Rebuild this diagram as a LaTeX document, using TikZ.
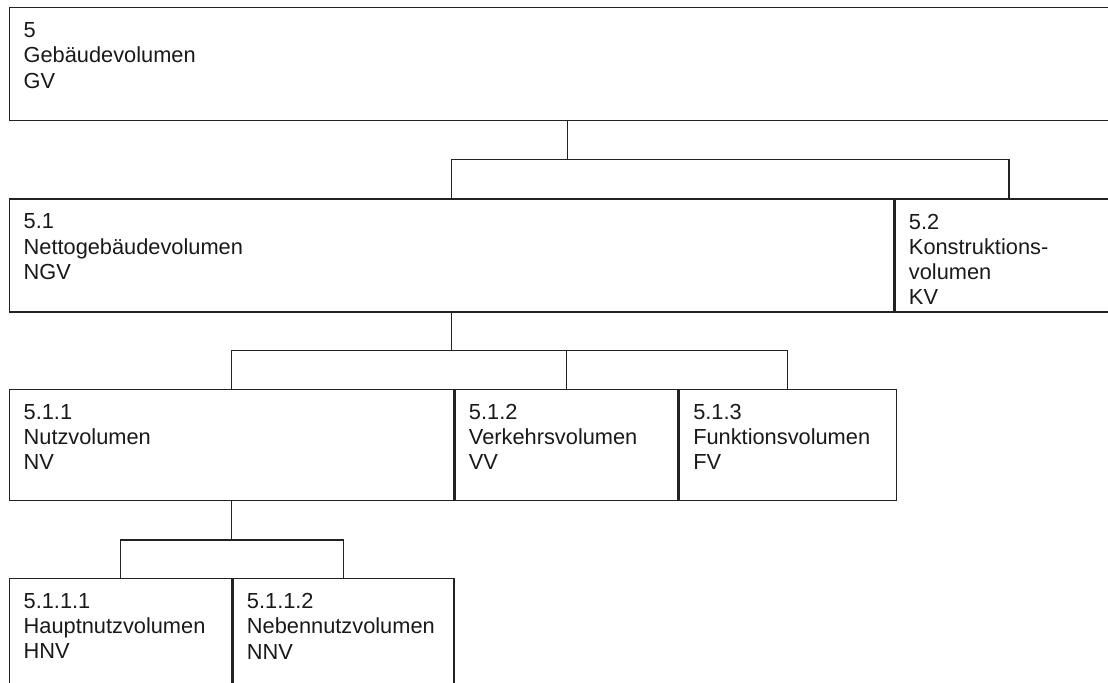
\documentclass[tikz,border=0pt]{standalone}
\usepackage{fontspec}
\setmainfont{Liberation Sans}
\usetikzlibrary{positioning}
\definecolor{cline}{HTML}{222222}
\tikzset{
  every picture/.style={line width=0.65pt},
  box/.style={draw=cline, rectangle, inner sep=0pt, anchor=north west, minimum width=#1, minimum height=56.5pt},
  boxtext/.style={anchor=north west, align=left, inner xsep=7pt, inner ysep=7.5pt, text=black!90, font=\fontsize{10.9}{12.6}\selectfont},
  link/.style={draw=cline},
}

\begin{document}
\begin{tikzpicture}[x=0.5pt, y=-0.5pt]
  \path[use as bounding box, clip] (0,0) rectangle (1108,683);
  % level 0
  \node[box=558pt] (gv) at (9,7) {};
  \node[boxtext] (gv-t) at (gv.north west) {5\\Gebäudevolumen\\GV};
  % level 1
  \node[box=442pt, below=38.5pt of gv.south west, anchor=north west] (ngv) {};
  \node[box=114pt, right=0pt of ngv.north east, anchor=north west] (kv) {};
  \node[boxtext] (ngv-t) at (ngv.north west) {5.1\\Nettogebäudevolumen\\NGV};
  \node[boxtext] (kv-t) at (kv.north west) {5.2\\Konstruktions-\\volumen\\KV};
  % level 2
  \node[box=222pt, minimum height=55.5pt, below=38pt of ngv.south west, anchor=north west] (nv) {};
  \node[box=111.5pt, minimum height=55.5pt, right=0pt of nv.north east, anchor=north west] (vv) {};
  \node[box=108.5pt, minimum height=55.5pt, right=0pt of vv.north east, anchor=north west] (fv) {};
  \node[boxtext] (nv-t) at (nv.north west) {5.1.1\\Nutzvolumen\\NV};
  \node[boxtext] (vv-t) at (vv.north west) {5.1.2\\Verkehrsvolumen\\VV};
  \node[boxtext] (fv-t) at (fv.north west) {5.1.3\\Funktionsvolumen\\FV};
  % level 3
  \node[box=111pt, minimum height=60pt, below=38.5pt of nv.south west, anchor=north west] (hnv) {};
  \node[box=110.5pt, minimum height=60pt, right=0pt of hnv.north east, anchor=north west] (nnv) {};
  \node[boxtext] (hnv-t) at (hnv.north west) {5.1.1.1\\Hauptnutzvolumen\\HNV};
  \node[boxtext] (nnv-t) at (nnv.north west) {5.1.1.2\\Nebennutzvolumen\\NNV};

  \draw[link] (gv.south) -- ++(0,38) -| (ngv.north);
  \draw[link] (gv.south) -- ++(0,38) -| (kv.north);
  \draw[link] (ngv.south) -- ++(0,38) -| (nv.north);
  \draw[link] (ngv.south) -- ++(0,38) -| (vv.north);
  \draw[link] (ngv.south) -- ++(0,38) -| (fv.north);
  \draw[link] (nv.south) -- ++(0,39) -| (hnv.north);
  \draw[link] (nv.south) -- ++(0,39) -| (nnv.north);
\end{tikzpicture}
\end{document}
